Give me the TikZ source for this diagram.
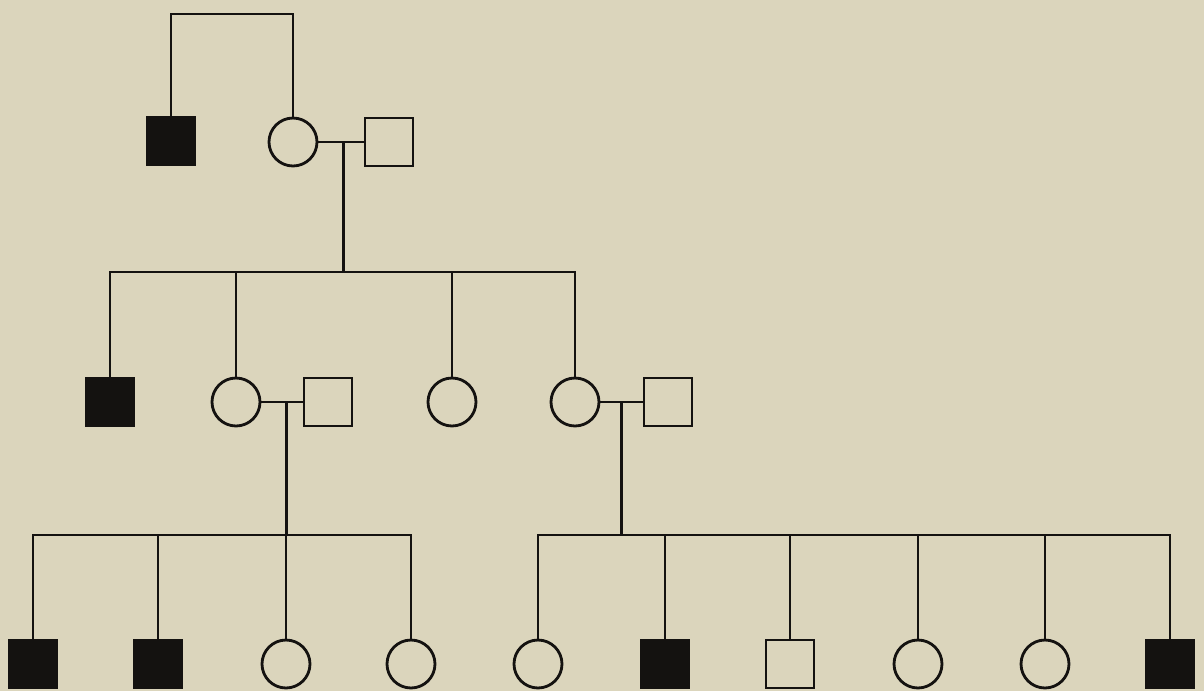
\documentclass[tikz,border=0pt]{standalone}
\usepackage{tikz}
\usetikzlibrary{positioning,calc}
\definecolor{Paper}{HTML}{DBD5BC}
\definecolor{Ink}{HTML}{141210}
\tikzset{
  person/.style={draw=Ink,line width=1.6pt,minimum size=.96cm,inner sep=0pt},
  male/.style={person,rectangle,fill=Paper},
  affected/.style={person,rectangle,fill=Ink},
  female/.style={person,circle,fill=Paper},
  tie/.style={draw=Ink,line width=1.6pt}
}
\begin{document}
\begin{tikzpicture}[x=.02cm,y=-.02cm]
      \fill[Paper] (0,0) rectangle (1204,691);
      \useasboundingbox (0,0) rectangle (1204,691);
      % generation I
      \node[affected] (a1) at (171,141) {};
      \node[female] (a2) at (293,142) {};
      \node[male] (a3) at (389,142) {};
      \coordinate (top) at (230,14);
      \draw[tie] (a1.north) |- (top) -| (a2.north);
      \draw[tie] (a2.east) -- (a3.west) coordinate[pos=.55] (m1);
      % generation II
      \node[affected] (b1) at (110,402) {};
      \node[female] (b2) at (236,402) {};
      \node[male] (b3) at (328,402) {};
      \node[female] (b4) at (452,402) {};
      \node[female] (b5) at (575,402) {};
      \node[male] (b6) at (668,402) {};
      \coordinate (s1) at ($(m1)+(0,130)$);
      \draw[tie] (m1) -- (s1);
      \draw[tie] (b1.north) |- (s1) -| (b5.north);
      \draw[tie] (b2.north) -- (b2.north |- s1);
      \draw[tie] (b4.north) -- (b4.north |- s1);
      \draw[tie] (b2.east) -- (b3.west) coordinate[pos=.6] (m2);
      \draw[tie] (b5.east) -- (b6.west) coordinate[midway] (m3);
      % generation III
      \node[affected] (c1) at (33,664) {};
      \node[affected] (c2) at (158,664) {};
      \node[female] (c3) at (286,664) {};
      \node[female] (c4) at (411,664) {};
      \node[female] (d1) at (538,664) {};
      \node[affected] (d2) at (665,664) {};
      \node[male] (d3) at (790,664) {};
      \node[female] (d4) at (918,664) {};
      \node[female] (d5) at (1045,664) {};
      \node[affected] (d6) at (1170,664) {};
      \coordinate (s2) at ($(m2)+(0,133)$);
      \coordinate (s3) at ($(m3)+(0,133)$);
      \draw[tie] (m2) -- (s2);
      \draw[tie] (m3) -- (s3);
      \draw[tie] (c1.north) |- (s2) -| (c4.north);
      \foreach \k in {c2,c3}
        \draw[tie] (\k.north) -- (\k.north |- s2);
      \draw[tie] (d1.north) |- (s3) -| (d6.north);
      \foreach \k in {d2,d3,d4,d5}
        \draw[tie] (\k.north) -- (\k.north |- s3);
    \end{tikzpicture}
\end{document}
